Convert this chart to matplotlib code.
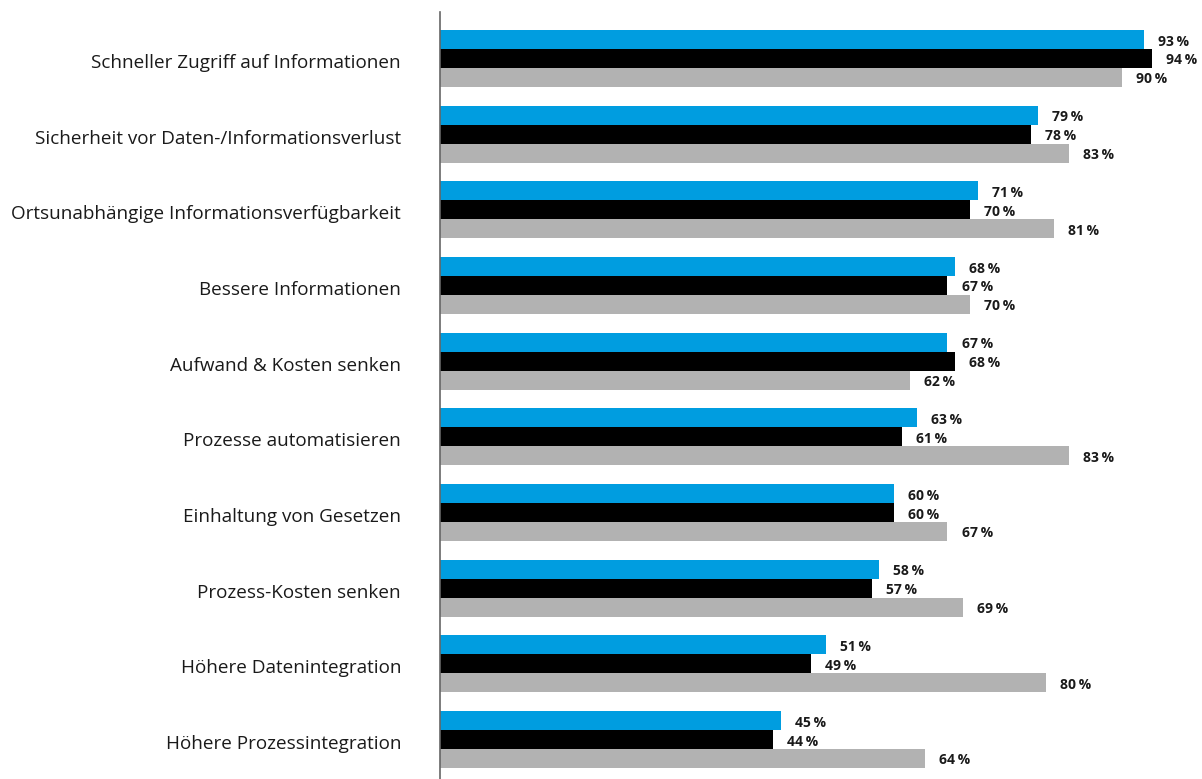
import matplotlib
matplotlib.use("Agg")
import matplotlib.pyplot as plt
import matplotlib.transforms as mtransforms
import numpy as np

categories = [
    "Schneller Zugriff auf Informationen",
    "Sicherheit vor Daten-/Informationsverlust",
    "Ortsunabhängige Informationsverfügbarkeit",
    "Bessere Informationen",
    "Aufwand & Kosten senken",
    "Prozesse automatisieren",
    "Einhaltung von Gesetzen",
    "Prozess-Kosten senken",
    "Höhere Datenintegration",
    "Höhere Prozessintegration",
]
series_blue = [93, 79, 71, 68, 67, 63, 60, 58, 51, 45]
series_black = [94, 78, 70, 67, 68, 61, 60, 57, 49, 44]
series_grey = [90, 83, 81, 70, 62, 83, 67, 69, 80, 64]

colors = ["#009DE0", "#000000", "#B2B2B2"]
offsets = [-0.25, 0.0, 0.25]
h = 0.25

fig = plt.figure(figsize=(12.02, 7.79), dpi=100)
ax = fig.add_axes([440 / 1202, 0, 1 - 440 / 1202, 1 - 12 / 779])

shift = mtransforms.ScaledTranslation(0, -2 / 100, fig.dpi_scale_trans)

y = np.arange(len(categories))
for vals, c, off in zip([series_blue, series_black, series_grey], colors, offsets):
    ax.barh(y + off, vals, height=h, color=c, linewidth=0)
    for yi, v in zip(y, vals):
        ax.text(v + 1.85, yi + off, f"{v}\u2009%", va="center", ha="left",
                fontsize=10, fontweight="bold", color="#1a1a1a",
                family=["Open Sans", "DejaVu Sans"],
                transform=ax.transData + shift)

ax.set_xlim(0, 100.6)
ax.set_ylim(9.522, -0.6145)
ax.set_yticks(y + 0.035)
ax.set_yticklabels(categories, fontsize=13.6, family=["Open Sans", "DejaVu Sans"], color="#1a1a1a")
ax.tick_params(axis="y", length=0, pad=28)
ax.set_xticks([])
for s in ["top", "right", "bottom"]:
    ax.spines[s].set_visible(False)
ax.spines["left"].set_color("#666666")
ax.spines["left"].set_linewidth(1.2)

fig.savefig("out.png", dpi=100)
